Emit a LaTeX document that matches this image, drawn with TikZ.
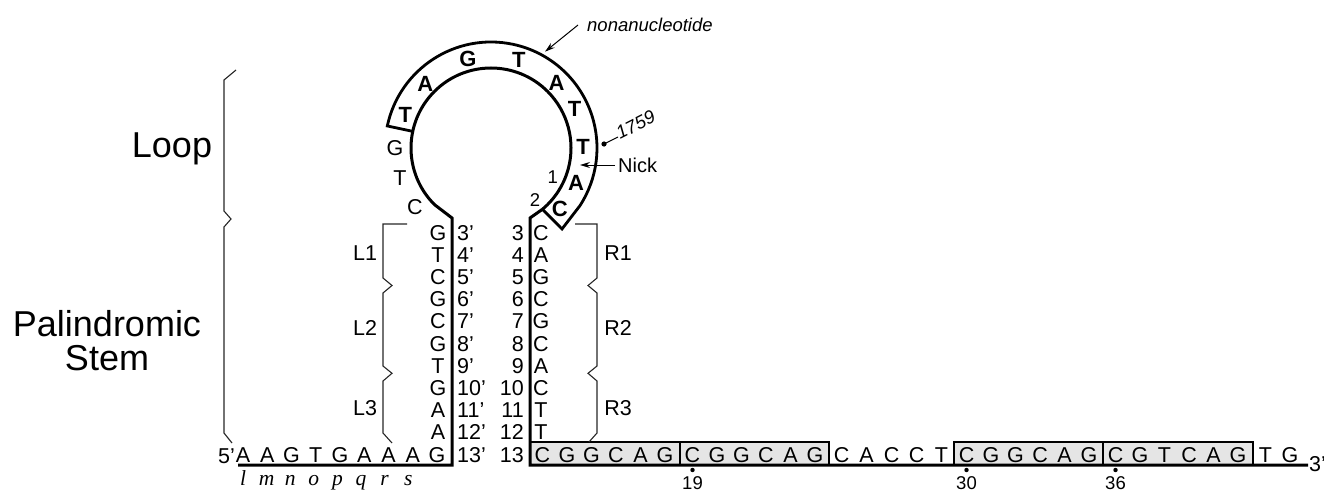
\documentclass[tikz,border=0pt]{standalone}
\usepackage{fontspec}
\setmainfont{Liberation Sans}
\newfontfamily\serifface{Liberation Serif}
\usetikzlibrary{arrows.meta,calc}
\begin{document}
\begin{tikzpicture}[x=1pt,y=1pt,
  strand/.style={line width=3pt,line join=miter},
  bandline/.style={line width=2.8pt,line join=miter},
  brk/.style={line width=1.1pt,black!85},
  seqbox/.style={draw,fill=black!10,line width=2.6pt},
  seq/.style={font=\fontsize{21.5}{24}\selectfont,inner sep=0pt},
  boldseq/.style={font=\fontsize{22}{24}\selectfont\bfseries,inner sep=0pt},
  lab/.style={font=\fontsize{18.5}{22}\selectfont,inner sep=0pt},
  nicklab/.style={font=\fontsize{20}{22}\selectfont,inner sep=0pt},
  itlab/.style={font=\fontsize{18.5}{22}\selectfont\itshape,inner sep=0pt},
  serifit/.style={font=\fontsize{21.5}{24}\selectfont\serifface\itshape,inner sep=0pt},
  big/.style={font=\fontsize{36}{34}\selectfont,inner sep=0pt,align=center},
  arr/.style={line width=1pt,-{Stealth[length=10pt,width=6pt]}}]
\useasboundingbox (0,0) rectangle (1324,491);
\coordinate (C) at (491,343);

% grey boxes
\foreach \a/\b [count=\n] in {530/680,680/829,954/1103,1103/1253}
  \draw[seqbox] (\a,26) rectangle (\b,49);

% the strand: 5' tail, stem, loop, stem, 3' tail
\coordinate (s5) at (238,26);
\coordinate (s3) at (1308,26);
\draw[strand] (s5) -- (452,26) -- (452,273) -- ($(C)+(225:80)$)
   arc[start angle=225,end angle=-50,radius=80] -- (530,273) -- (530,26) -- (s3);

% nonanucleotide band
\draw[bandline] ($(C)+(168:80)$) -- ($(C)+(168:106)$)
   arc[start angle=168,end angle=-33,radius=106] -- (562,262) -- ($(C)+(-50:80)$);

% band letters
\foreach \L/\ang [count=\i] in {T/158.6,A/135.6,G/104.6,T/72.4,A/44.6,T/24.8,T/0.8,A/-22.4,C/-41.6}
  \node[boldseq] (nb\i) at ($(C)+(\ang:92)$) {\L};

% other loop letters
\node[seq] (lg) at (395,342.7) {G};
\node[seq] (lt) at (400,312.7) {T};
\node[seq] (lc) at (415,283.7) {C};
\node[lab] (one) at (552.7,314.3) {1};
\node[lab] (two) at (535,291) {2};

% stem: left letters and numbers
\foreach \L [count=\i from 3] in {G,T,C,G,C,G,T,G,A,A}
  \node[seq,anchor=base] (ll\i) at (438,{251-(\i-3)*22.2}) {\L};
\foreach \i in {3,...,13}
  \node[seq,anchor=base west] (ln\i) at (457,{251-(\i-3)*22.2}) {\i’};
% stem: right numbers and letters
\foreach \i in {3,...,13}
  \node[seq,anchor=base east] (rn\i) at (524,{251-(\i-3)*22.2}) {\i};
\foreach \L [count=\i from 3] in {C,A,G,C,G,C,A,C,T,T}
  \node[seq,anchor=base] (rl\i) at (541,{251-(\i-3)*22.2}) {\L};

% 5' tail letters
\node[seq,anchor=base east] (five) at (235,28) {5’};
\foreach \L [count=\i from 0] in {A,A,G,T,G,A,A,A,G}
  \node[seq,anchor=base] (t\i) at ({243+\i*24.25},29) {\L};
\foreach \L [count=\i from 0] in {l,m,n,o,p,q,r,s}
  \node[serifit,anchor=base] (it\i) at ({243+\i*23.6},6) {\L};

% 3' tail letters
\foreach \L [count=\i from 0] in {C,G,G,C,A,G}
  \node[seq,anchor=base] (ba\i) at ({542.5+\i*24.5},29) {\L};
\foreach \L [count=\i from 0] in {C,G,G,C,A,G}
  \node[seq,anchor=base] (bb\i) at ({692.5+\i*24.5},29) {\L};
\foreach \L [count=\i from 0] in {C,A,C,C,T}
  \node[seq,anchor=base] (bc\i) at ({841.5+\i*25},29) {\L};
\foreach \L [count=\i from 0] in {C,G,G,C,A,G}
  \node[seq,anchor=base] (bd\i) at ({966.5+\i*24.5},29) {\L};
\foreach \L [count=\i from 0] in {C,G,T,C,A,G}
  \node[seq,anchor=base] (be\i) at ({1115.5+\i*24.5},29) {\L};
\node[seq,anchor=base] (bf0) at (1265.5,29) {T};
\node[seq,anchor=base] (bf1) at (1290,29) {G};
\node[seq,anchor=base west] (three) at (1309,20) {3’};

% position marks
\foreach \nm/\num in {bb0/19,bd0/30,be0/36}{
  \fill ($(\nm.base)+(0,-8)$) circle (2.2);
  \node[lab,anchor=base] (m\num) at ($(\nm.base)+(0,-27)$) {\num};
}

% brackets
\draw[brk] (236,421) -- (224,411) -- (224,280) -- (231,272) -- (224,264) -- (224,58) -- (232,48);
\draw[brk] (407,267) -- (383,267) -- (383,213) -- (392,205.5) -- (383,198) -- (383,125) -- (392,117.7) -- (383,110) -- (383,58) -- (392,48);
\draw[brk] (575,267) -- (597,267) -- (597,213) -- (588,205.5) -- (597,198) -- (597,125) -- (588,117.7) -- (597,110) -- (597,58) -- (589,49);

% bracket labels
\node[big,anchor=base] (loop) at (172,334) {Loop};
\node[big] (stem) at (107,150) {Palindromic\\Stem};
\node[seq] (L1) at (365,238) {L1};
\node[seq] (L2) at (365,163) {L2};
\node[seq] (L3) at (365,83) {L3};
\node[seq] (R1) at (618,238) {R1};
\node[seq] (R2) at (618,163) {R2};
\node[seq] (R3) at (618,83) {R3};

% annotations
\node[itlab,anchor=base west] (nona) at (587,459) {nonanucleotide};
\coordinate (nonatip) at (545,439.3);
\draw[arr] (nona.west |- 0,466) ++(-9,0) -- (nonatip);
\node[nicklab,anchor=base west] (nick) at (618,319) {Nick};
\coordinate (nicktip) at (580,326);
\draw[arr] (nick.west |- 0,326) ++(-3,0) -- (nicktip);
\coordinate (d1759) at (604,347);
\fill (d1759) circle (2.6);
\node[itlab,anchor=base west,rotate=27] (n1759) at (620,351) {1759};
\draw[line width=1pt] (d1759) -- (618,354);
\end{tikzpicture}
\end{document}
